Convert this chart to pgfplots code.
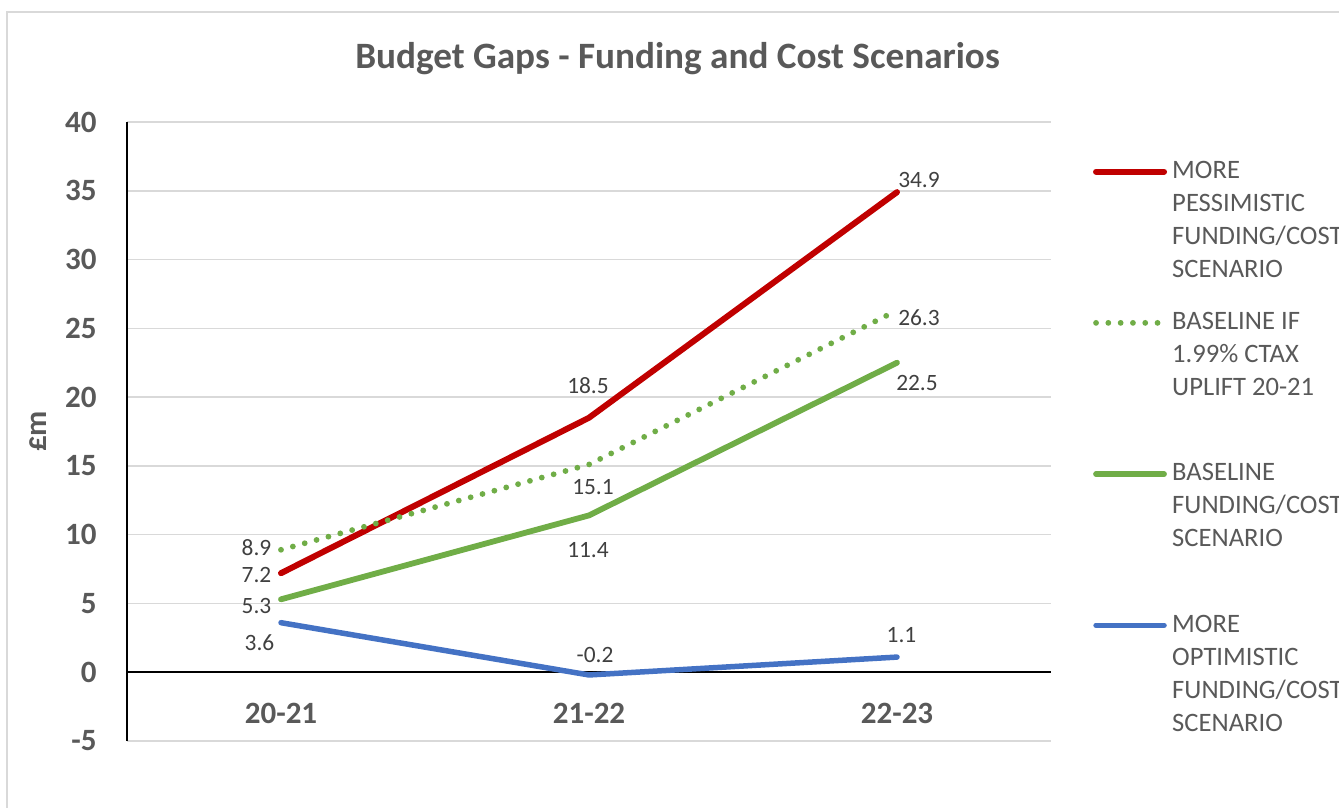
\documentclass[border=0pt]{standalone}
\usepackage{pgfplots}
\pgfplotsset{compat=1.18}
\usepackage{pgfplotstable}
\usepackage{fontspec}
\setmainfont{Carlito}
\definecolor{cred}{HTML}{C00000}
\definecolor{cgreen}{HTML}{70AD47}
\definecolor{cblue}{HTML}{4472C4}
\definecolor{txt}{HTML}{595959}
\definecolor{lbl}{HTML}{404040}
\definecolor{cgrid}{HTML}{D9D9D9}

\pgfplotstableread{
x y dx dy
0 7.2 -12.25 -0.75
1 18.5 -0.5 16
2 34.9 11 6.2
}\redtab
\pgfplotstableread{
x y dx dy
0 8.9 -12.25 1.25
1 15.1 2 -11.4
2 26.3 11 -3.7
}\dottab
\pgfplotstableread{
x y dx dy
0 5.3 -12.25 -3.5
1 11.4 -0.5 -17.5
2 22.5 10 -10.3
}\greentab
\pgfplotstableread{
x y dx dy
0 3.6 -10.75 -9.75
1 -0.2 3 10.1
2 1.1 2.25 11.2
}\bluetab

\pgfplotsset{
  lbls/.style={
    draw=none, mark=none, forget plot,
    visualization depends on={\thisrow{dx}\as\dx},
    visualization depends on={\thisrow{dy}\as\dy},
    point meta=y,
    nodes near coords={\pgfmathprintnumber[fixed,precision=1,assume math mode=true]{\pgfplotspointmeta}},
    every node near coord/.style={anchor=center, inner sep=0pt, xshift=\dx pt, yshift=\dy pt,
      font=\fontsize{11.7}{14}\selectfont, text=lbl},
  }
}

\begin{document}
\begin{tikzpicture}
\useasboundingbox (0,0) rectangle (669.5pt,404pt);
\clip (0,0) rectangle (669.5pt,404pt);
\draw[cgrid, line width=0.75pt] (3.5pt,-5pt) -- (3.5pt,398pt) -- (680pt,398pt);
\begin{axis}[
  at={(63.5pt,33.5pt)}, anchor=south west,
  scale only axis, width=462pt, height=309.5pt,
  xmin=-0.5, xmax=2.5, ymin=-5, ymax=40,
  xtick={0,1,2}, xticklabels={20-21,21-22,22-23},
  ytick={-5,0,...,40},
  /pgf/number format/assume math mode=true,
  clip=false,
  axis x line*=bottom, axis y line*=left,
  x axis line style={draw=none},
  y axis line style={black, line width=1pt},
  tick style={draw=none}, major tick length=0pt,
  ymajorgrids, grid style={cgrid, line width=0.8pt},
  xticklabel style={anchor=center, yshift=13.75pt, font=\bfseries\fontsize{15.5}{18}\selectfont, text=txt},
  yticklabel style={anchor=east, inner sep=0pt, xshift=-15pt, font=\bfseries\fontsize{15.5}{18}\selectfont, text=txt},
  title={Budget Gaps - Funding and Cost Scenarios},
  title style={at={(axis description cs:0.5958,1.0824)}, anchor=center, font=\bfseries\fontsize{18.6}{22}\selectfont, text=txt},
  ylabel={£m},
  ylabel style={at={(axis description cs:-0.0958,0.5)}, anchor=center, font=\bfseries\fontsize{15.5}{18}\selectfont, text=txt},
  legend image code/.code={\draw[#1, line cap=round] (0pt,3.4pt) -- (34pt,3.4pt);},
  legend cell align=left,
  legend style={at={(axis description cs:1.0455,0.9346)}, anchor=north west, draw=none, fill=none,
    inner sep=0pt, outer sep=0pt, row sep=0pt, column sep=2.6pt,
    nodes={inner sep=0pt, outer sep=0pt, text height=8pt, text depth=67.6pt,
      font=\fontsize{13.3}{16.5}\selectfont, text=txt},
    cells={anchor=base west}},
]
\draw[black, line width=1pt] (axis cs:-0.5,0) -- (axis cs:2.5,0);
\addplot[draw=cred, line width=3pt, line cap=round, line join=round] table[x=x,y=y] {\redtab};
\addlegendentry{\begin{tabular}[t]{@{}l@{}}MORE\\PESSIMISTIC\\FUNDING/COST\\SCENARIO\end{tabular}}
\addplot[draw=cgreen, line width=2.9pt, line cap=round, dash pattern=on 0pt off 6.15pt] table[x=x,y=y] {\dottab};
\addlegendentry{\begin{tabular}[t]{@{}l@{}}BASELINE IF\\1.99\% CTAX\\UPLIFT 20-21\end{tabular}}
\addplot[draw=cgreen, line width=2.9pt, line cap=round, line join=round] table[x=x,y=y] {\greentab};
\addlegendentry{\begin{tabular}[t]{@{}l@{}}BASELINE\\FUNDING/COST\\SCENARIO\end{tabular}}
\addplot[draw=cblue, line width=2.75pt, line cap=round, line join=round] table[x=x,y=y] {\bluetab};
\addlegendentry{\begin{tabular}[t]{@{}l@{}}MORE\\OPTIMISTIC\\FUNDING/COST\\SCENARIO\end{tabular}}
\addplot[lbls] table[x=x,y=y] {\redtab};
\addplot[lbls] table[x=x,y=y] {\dottab};
\addplot[lbls] table[x=x,y=y] {\greentab};
\addplot[lbls] table[x=x,y=y] {\bluetab};
\end{axis}
\end{tikzpicture}
\end{document}
